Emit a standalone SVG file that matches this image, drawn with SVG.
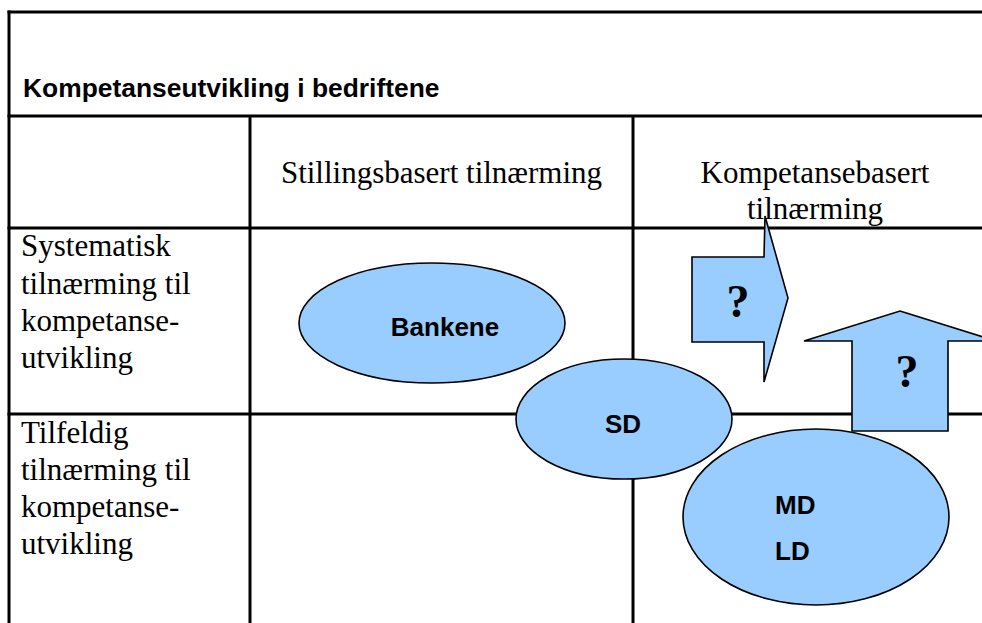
<svg xmlns="http://www.w3.org/2000/svg" width="982" height="623" viewBox="0 0 982 623">
  <style>
    .grid { stroke: #000; stroke-width: 3; fill: none; }
    .shape { fill: #99CCFF; stroke: #000; stroke-width: 1.6; }
    .serif { font-family: "Liberation Serif", "Times New Roman", serif; font-size: 31px; fill: #000; }
    .bold { font-family: "Liberation Sans", Arial, sans-serif; font-weight: bold; font-size: 26px; fill: #000; }
    .q { font-family: "Liberation Serif", "Times New Roman", serif; font-weight: bold; font-size: 46px; fill: #000; text-anchor: middle; }
  </style>
  <rect width="982" height="623" fill="#fff"/>

  <g id="table">
    <line class="grid" x1="7.5" y1="12" x2="990" y2="12"/>
    <line class="grid" x1="9" y1="10.5" x2="9" y2="630"/>
    <line class="grid" x1="7.5" y1="116" x2="990" y2="116"/>
    <line class="grid" x1="7.5" y1="228" x2="990" y2="228"/>
    <line class="grid" x1="7.5" y1="414" x2="990" y2="414"/>
    <line class="grid" x1="250" y1="116" x2="250" y2="630"/>
    <line class="grid" x1="633" y1="116" x2="633" y2="630"/>
  </g>

  <g id="labels">
    <text class="bold" x="23" y="97" style="font-size:26.4px">Kompetanseutvikling i bedriftene</text>
    <text class="serif" x="441.5" y="183" text-anchor="middle">Stillingsbasert tilnærming</text>
    <text class="serif" x="815" y="183" text-anchor="middle">Kompetansebasert</text>
    <text class="serif" x="815" y="219" text-anchor="middle">tilnærming</text>
    <text class="serif" x="21" y="256">Systematisk</text>
    <text class="serif" x="21" y="294">tilnærming til</text>
    <text class="serif" x="21" y="331">kompetanse-</text>
    <text class="serif" x="21" y="368">utvikling</text>
    <text class="serif" x="21" y="443">Tilfeldig</text>
    <text class="serif" x="21" y="480">tilnærming til</text>
    <text class="serif" x="21" y="517">kompetanse-</text>
    <text class="serif" x="21" y="554">utvikling</text>
  </g>

  <g id="bankene">
    <ellipse class="shape" cx="432" cy="323" rx="133" ry="60"/>
    <text class="bold" x="445" y="336" text-anchor="middle">Bankene</text>
  </g>

  <g id="sd">
    <ellipse class="shape" cx="624" cy="419" rx="108" ry="60"/>
    <text class="bold" x="623" y="433" text-anchor="middle">SD</text>
  </g>

  <g id="md-ld">
    <ellipse class="shape" cx="816" cy="517" rx="133" ry="88"/>
    <text class="bold" x="775" y="514">MD</text>
    <text class="bold" x="775" y="560">LD</text>
  </g>

  <g id="arrow-right">
    <polygon class="shape" points="692,257 764,257 765,216 788,298 764,382 764,342 692,342"/>
    <text class="q" x="738" y="317">?</text>
  </g>

  <g id="arrow-up">
    <polygon class="shape" points="900,311 996,341 948,341 948,431 852,431 852,341 804,341"/>
    <text class="q" x="907" y="387">?</text>
  </g>

  <g id="connectors"/>
</svg>
